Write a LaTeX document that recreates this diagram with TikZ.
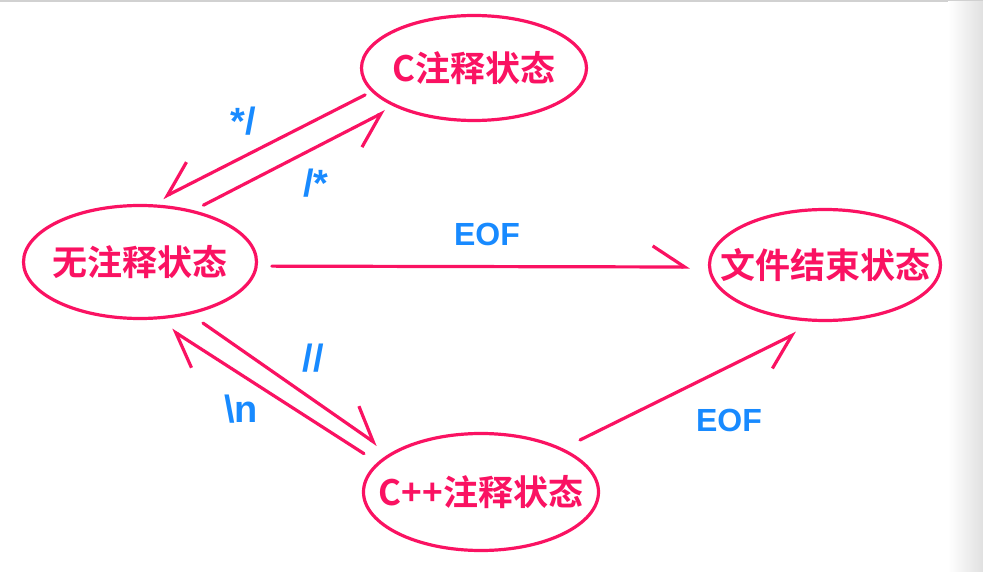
\documentclass[tikz,border=0pt]{standalone}
\usepackage{fontspec}
\setmainfont{Liberation Sans}
\newfontfamily\cjk{Noto Sans CJK SC}[BoldFont={Noto Sans CJK SC Bold}]
\usepackage{tikz}
\usepackage{xcolor}
\usetikzlibrary{shapes.geometric, arrows.meta}
\definecolor{pinkred}{RGB}{250,18,98}
\definecolor{lblblue}{RGB}{24,138,255}

\begin{document}
\begin{tikzpicture}[x=1pt, y=-1pt,
        state/.style={ellipse, draw=pinkred, line width=3.2pt, text=pinkred,
            font=\cjk\bfseries\fontsize{35}{40}\selectfont,
            inner xsep=-50pt, inner ysep=-8pt},
        link/.style={draw=pinkred, line width=3.2pt, line cap=round},
        barbl/.style={-{Straight Barb[harpoon, length=32pt, width=42pt]}},
        barbr/.style={-{Straight Barb[harpoon, swap, length=32pt, width=42pt]}},
        lbl/.style={text=lblblue, font=\bfseries\fontsize{32}{36}\selectfont},
        sym/.style={lbl, font=\bfseries\fontsize{38}{42}\selectfont}]
        \useasboundingbox (0,0) rectangle (983,572);
        \fill[black!18] (0,0) rectangle (983,2);
        \shade[left color=white, right color=black!12] (948,2) rectangle (983,572);

        \node[state, minimum width=225pt, minimum height=105pt] (cmt) at (474, 68) {C注释状态};
        \node[state, minimum width=233pt, minimum height=113pt] (nocmt) at (140, 262) {无注释状态};
        \node[state, minimum width=231pt, minimum height=111pt] (eof) at (825, 265) {文件结束状态};
        \node[state, minimum width=235pt, minimum height=117pt] (cpp) at (481, 492) {C++注释状态};

        \draw[link, barbr, shorten <=7pt, shorten >=14pt] (cmt.193) to (nocmt.80);
        \draw[link, barbr, shorten <=11pt, shorten >=10pt] (nocmt.44.5) to (cmt.206.8);
        \draw[link, barbl, shorten <=14pt, shorten >=18pt] (nocmt.358.6) to (eof.181);
        \draw[link, barbl, shorten <=15pt, shorten >=15pt] (nocmt.314) to (cpp.157);
        \draw[link, barbl, shorten <=16pt, shorten >=19pt] (cpp.164.9) to (nocmt.285.5);
        \draw[link, barbr, shorten <=19pt, shorten >=25pt] (cpp.28) to (eof.264.4);

        \node[sym] (lclose) at (243, 121) {*/};
        \node[sym] (lopen) at (316, 183) {/*};
        \node[lbl] (leof) at (487, 234) {EOF};
        \node[sym] (lline) at (313, 358) {//};
        \node[sym] (lnl) at (241, 409) {\textbackslash n};
        \node[lbl] (lend) at (729, 420) {EOF};
    \end{tikzpicture}
\end{document}
